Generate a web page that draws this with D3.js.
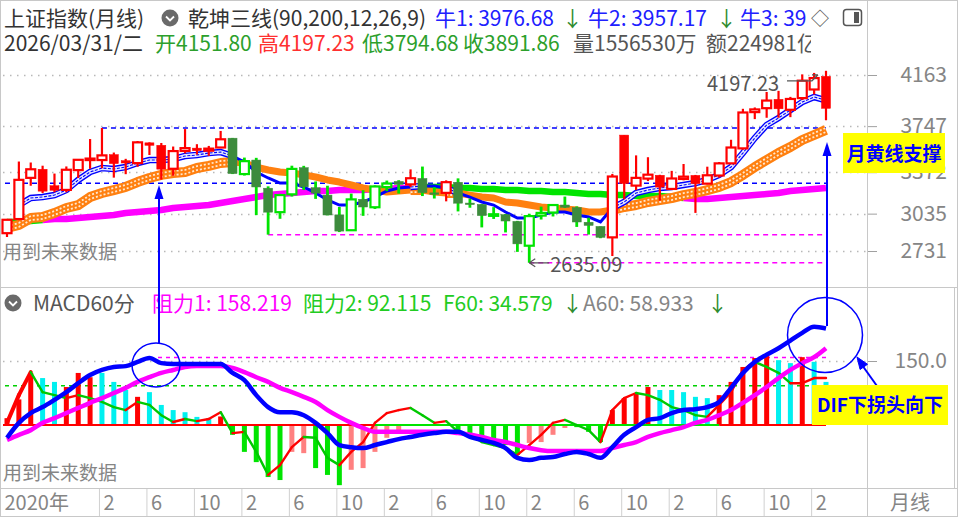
<!DOCTYPE html>
<html>
<head>
<meta charset="utf-8">
<script src="https://cdn.jsdelivr.net/npm/d3@7"></script>
<style>
  body { margin: 0; background: #fff; }
  svg { display: block; font-family: "Noto Sans CJK SC", "Noto Sans", sans-serif; }
</style>
</head>
<body>
<svg id="chart" width="958" height="517"></svg>
<script>
// ---- data (monthly, Jun 2020 .. Mar 2026) ----
const months = [
  "2020-06","2020-07","2020-08","2020-09","2020-10","2020-11","2020-12",
  "2021-01","2021-02","2021-03","2021-04","2021-05","2021-06","2021-07","2021-08","2021-09","2021-10","2021-11","2021-12",
  "2022-01","2022-02","2022-03","2022-04","2022-05","2022-06","2022-07","2022-08","2022-09","2022-10","2022-11","2022-12",
  "2023-01","2023-02","2023-03","2023-04","2023-05","2023-06","2023-07","2023-08","2023-09","2023-10","2023-11","2023-12",
  "2024-01","2024-02","2024-03","2024-04","2024-05","2024-06","2024-07","2024-08","2024-09","2024-10","2024-11","2024-12",
  "2025-01","2025-02","2025-03","2025-04","2025-05","2025-06","2025-07","2025-08","2025-09","2025-10","2025-11","2025-12",
  "2026-01","2026-02","2026-03"
];
const openP = [2876,2991,3326,3396,3262,3228,3389,
  3474,3471,3515,3466,3446,3611,3591,3400,3545,3568,3547,3573,
  3649,3357,3471,3242,3047,3192,3409,3246,3186,3025,2900,3152,
  3087,3251,3297,3273,3321,3204,3204,3290,3121,3110,3017,3027,
  2972,2774,3019,3044,3105,3084,2965,2931,2842,3674,3263,3320,
  3347,3236,3317,3346,3279,3345,3444,3566,3861,3893,3965,3880,
  3975,4045,4151.80];
const highP = [2992,3459,3451,3425,3361,3419,3474,
  3642,3732,3532,3481,3626,3615,3610,3581,3723,3600,3586,3708,
  3651,3491,3489,3257,3196,3425,3424,3297,3262,3089,3198,3226,
  3265,3304,3307,3395,3418,3250,3306,3322,3156,3112,3088,3032,
  2976,3034,3092,3110,3174,3094,3002,2931,3358,3674,3509,3494,
  3351,3383,3439,3350,3417,3455,3636,3888,3899,4025,4034,3985,
  4168,4180,4197.23];
const lowP = [2845,2982,3262,3202,3209,3209,3325,
  3400,3404,3328,3356,3416,3512,3312,3343,3526,3515,3505,3570,
  3357,3345,3023,2864,2993,3174,3227,3155,3021,2885,2896,3017,
  3073,3218,3198,3252,3178,3158,3135,3053,3083,2923,2992,2882,
  2724,2635.09,2987,3012,3081,2927,2865,2835,2690,3152,3226,3300,
  3141,3234,3306,3041,3273,3328,3440,3556,3804,3815,3815,3820,
  3960,4005,3794.68];
const closeP = [2985,3310,3396,3218,3225,3392,3473,
  3483,3509,3442,3447,3615,3591,3397,3544,3568,3547,3564,3640,
  3361,3462,3252,3047,3186,3399,3253,3202,3024,2893,3151,3089,
  3256,3280,3273,3323,3205,3202,3291,3120,3110,3019,3030,2975,
  2789,3015,3041,3105,3087,2967,2939,2842,3337,3280,3326,3352,
  3251,3321,3336,3279,3347,3444,3573,3858,3883,3955,3888,3968,
  4117,4138,3891.86];
// candle regime: r = red (bull), g = green (bear)
const regime = ("rrrrrrr" + "rrrrrrrrrrrr" + "gggggggggggg" + "gggrggrggggg" + "ggggggggrrrr" + "rrrrrrrrrrrr" + "rrr").split("");

// 乾坤三线
const bullLine = [null,3105,3162,3170,3186,3227,3309,
  3374,3406,3398,3414,3447,3471,3471,3479,3504,3512,3528,3536,
  3504,3455,3374,3325,3284,3284,3252,3203,3146,3105,3105,3130,
  3170,3219,3244,3252,3260,3260,3244,3203,3170,3130,3105,3048,
  2999,2999,3024,3048,3048,3024,3008,2967,3081,3130,3203,3227,
  3244,3252,3268,3284,3309,3350,3414,3528,3650,3756,3813,3878,
  3943,3984,3957];
const yellowLine = [2918,2943,2999,3008,3040,3081,3105,
  3170,3203,3227,3252,3292,3325,3350,3366,3374,3406,3423,3447,
  3455,3447,3414,3390,3374,3366,3350,3333,3309,3292,3268,3244,
  3227,3211,3219,3227,3227,3211,3203,3203,3186,3170,3162,3130,
  3121,3105,3089,3081,3073,3065,3048,3048,3065,3089,3105,3130,
  3146,3162,3186,3203,3227,3252,3292,3350,3414,3471,3528,3577,
  3634,3675,3716];
const longLine = [2967,2967,2975,2983,2991,2991,2999,
  3008,3016,3024,3040,3048,3056,3065,3081,3089,3097,3105,3121,
  3138,3154,3170,3186,3195,3203,3211,3219,3219,3227,3227,3227,
  3235,3235,3244,3244,3252,3252,3252,3244,3244,3235,3235,3227,
  3227,3219,3219,3211,3211,3203,3195,3195,3186,3186,3178,3178,
  3178,3170,3162,3154,3154,3162,3170,3178,3186,3195,3203,3219,
  3227,3235,3244];
const longColor = ("ggg" + "mmmmmmmmmmmmmmmmmmmmmmmmmmmmmmmm" + "gggggggggggggggggggggg" + "mmmmmmmmmmmmm").split("");

// MACD60分
const dif = [-30,5,28,42,59,77,98,
  117,129,136,138,148,157,145,143,143,143,143,143,
  122,105,70,42,30,30,23,5,-19,-47,-52,-54,
  -47,-40,-33,-28,-23,-19,-16,-16,-28,-35,-42,-54,
  -77,-82,-77,-75,-68,-63,-68,-77,-52,-23,-5,12,
  16,28,35,37,42,54,87,122,148,165,180,198,
  216,230,226];
const dea = [-35,-23,-12,5,16,28,40,
  52,63,75,87,101,112,122,129,136,138,138,138,
  134,124,112,101,87,77,66,54,35,19,5,-7,
  -16,-16,-16,-16,-16,-16,-16,-19,-23,-28,-35,-40,
  -47,-54,-59,-61,-61,-61,-61,-61,-54,-47,-40,-28,
  -19,-12,-5,5,12,23,35,52,70,89,110,129,
  145,159,180];
const hist = [16,60,122,110,101,89,122,
  112,122,101,82,66,77,47,35,30,19,16,20,
  -23,-63,-87,-122,-129,-63,-66,-101,-117,-141,-105,-101,
  -63,-30,-16,0,0,0,0,-19,-23,-40,-40,-47,
  -70,-42,-40,-23,-7,-5,-16,-40,35,63,75,89,
  82,82,77,66,63,70,101,136,157,164,152,145,
  159,148,101];
const histColor = ("rrrccrr" + "rcccrccccccr" + "gggggppgggpp" + "pppppgpggggg" + "gppppgggrrrr" + "cccccrrrrrcc" + "rcc").split("");
const trendLine = [5,70,124,77,70,63,70,
  63,54,42,35,54,47,23,7,14,9,14,30,
  -19,-16,-63,-117,-94,-52,-28,-30,-77,-94,-63,-40,
  5,28,35,40,23,5,9,-16,-23,-40,-47,-54,
  -70,-47,-23,5,12,0,-12,-40,35,63,75,70,
  59,42,35,23,19,47,77,129,148,136,122,98,
  98,110,110];
const zeroColor = ("rrrrrrr" + "rrrrrrrrrrrr" + "rrrrrrrrrrrr" + "gggggggggggg" + "gggggggggggg" + "gggggrrrrrrr" + "rrr").split("");

const priceTicks = [4163, 3747, 3372, 3035, 2731];
const macdTicks = [150];
const timeTicks = ["2020-06","2021-02","2021-06","2021-10","2022-02","2022-06","2022-10","2023-02","2023-06","2023-10","2024-02","2024-06","2024-10","2025-02","2025-06","2025-10","2026-02"];
const timeLabels = ["2020年","2","6","10","2","6","10","2","6","10","2","6","10","2","6","10","2"];

// ---- setup ----
const W = 958, H = 517, plotRight = 867;
const svg = d3.select("#chart");
svg.append("rect").attr("width", W).attr("height", H).attr("fill", "#fff");

const x = d3.scalePoint().domain(months).range([7, 826]);
const y = d3.scaleLinear().domain([2731, 4163]).range([251, 75]);
const ym = d3.scaleLinear().domain([0, 150]).range([425, 361]);

const defs = svg.append("defs");
defs.append("clipPath").attr("id", "clipMain").append("rect").attr("x", 1).attr("y", 60).attr("width", plotRight - 1).attr("height", 227);
defs.append("clipPath").attr("id", "clipMacd").append("rect").attr("x", 1).attr("y", 289).attr("width", plotRight - 1).attr("height", 198);
defs.append("clipPath").attr("id", "clipHead").append("rect").attr("x", 0).attr("y", 0).attr("width", 811).attr("height", 60);

const RED = "#ff0000", BGREEN = "#00e400", DGREEN = "#3d8b3d", MAG = "#ff00ff", BLUE = "#0000ff";

// frame
svg.append("g").attr("stroke", "#c8c8c8").attr("fill", "none").call(g => {
  g.append("rect").attr("x", 0.5).attr("y", 0.5).attr("width", W - 1).attr("height", H - 1);
  g.append("line").attr("x1", plotRight + 0.5).attr("x2", plotRight + 0.5).attr("y1", 0).attr("y2", H);
  g.append("line").attr("x1", 0).attr("x2", W).attr("y1", 287.5).attr("y2", 287.5);
  g.append("line").attr("x1", 0).attr("x2", W).attr("y1", 488.5).attr("y2", 488.5);
  g.append("line").attr("x1", 954.5).attr("x2", 954.5).attr("y1", 288).attr("y2", 488);
});

// ---- main pane ----
const main = svg.append("g").attr("clip-path", "url(#clipMain)");

main.selectAll(".grid").data(priceTicks).join("line")
  .attr("x1", 3).attr("x2", plotRight).attr("y1", d => Math.round(y(d)) + 0.5).attr("y2", d => Math.round(y(d)) + 0.5)
  .attr("stroke", "#b8b8b8").attr("stroke-width", 1.5).attr("stroke-dasharray", "1.5,5.5");

svg.append("text").attr("x", 3).attr("y", 259).attr("font-size", 19).attr("fill", "#858585").text("用到未来数据");

// support / resistance dashed lines
const levelLines = [
  { v: 3731.69, from: "2021-02", c: BLUE },
  { v: 3282, from: null, c: BLUE },
  { v: 2863.65, from: "2022-04", c: MAG },
  { v: 2635.09, from: "2024-02", c: MAG }
];
main.selectAll(".lvl").data(levelLines).join("line")
  .attr("x1", d => d.from ? x(d.from) : 5).attr("x2", 826)
  .attr("y1", d => y(d.v)).attr("y2", d => y(d.v))
  .attr("stroke", d => d.c).attr("stroke-width", 1.5).attr("stroke-dasharray", "5,4");

function runs(cols) {
  const out = [];
  let s = 0;
  for (let i = 1; i <= cols.length; i++) {
    if (i === cols.length || cols[i] !== cols[s]) {
      out.push({ c: cols[s], from: s, to: Math.min(i, cols.length - 1) });
      s = i;
    }
  }
  return out;
}
const lineOf = arr => d3.line().defined(i => arr[i] != null).x(i => x(months[i])).y(i => y(arr[i]));
const idx = (a, b) => d3.range(a, b + 1);

// long line
runs(longColor).forEach(r => {
  main.append("path").attr("d", lineOf(longLine)(idx(r.from, r.to)))
    .attr("fill", "none").attr("stroke", r.c === "m" ? MAG : BGREEN)
    .attr("stroke-width", 6.5).attr("stroke-linejoin", "round");
});

// yellow (orange) band
const yRuns = runs(regime);
yRuns.forEach(r => {
  const d = lineOf(yellowLine)(idx(r.from, r.to));
  if (r.c === "r") {
    main.append("path").attr("d", d).attr("fill", "none").attr("stroke", "#ff8010").attr("stroke-width", 10).attr("stroke-linejoin", "round");
    main.append("path").attr("d", d).attr("fill", "none").attr("stroke", "#ffe8d0").attr("stroke-width", 1.8).attr("stroke-dasharray", "2,2")
      .attr("transform", "translate(0,-2)");
    main.append("path").attr("d", d).attr("fill", "none").attr("stroke", "#ffe8d0").attr("stroke-width", 1.8).attr("stroke-dasharray", "2,2")
      .attr("transform", "translate(0,2)");
  } else {
    main.append("path").attr("d", d).attr("fill", "none").attr("stroke", "#ff8010").attr("stroke-width", 7).attr("stroke-linejoin", "round");
  }
});

// bull (blue) band
yRuns.forEach(r => {
  const d = lineOf(bullLine)(idx(r.from, r.to));
  if (r.c === "r") {
    main.append("path").attr("d", d).attr("fill", "none").attr("stroke", BLUE).attr("stroke-width", 6.5);
    main.append("path").attr("d", d).attr("fill", "none").attr("stroke", "#e4e8ff").attr("stroke-width", 3.8);
    main.append("path").attr("d", d).attr("fill", "none").attr("stroke", BLUE).attr("stroke-width", 1.1).attr("stroke-dasharray", "3,1.5");
  } else {
    main.append("path").attr("d", d).attr("fill", "none").attr("stroke", BLUE).attr("stroke-width", 3);
  }
});

// candles
const candles = main.append("g").selectAll("g").data(d3.range(months.length)).join("g");
const up = i => closeP[i] >= openP[i];
const wickColor = i => regime[i] === "r" ? RED : BGREEN;
candles.append("line")
  .attr("x1", i => x(months[i])).attr("x2", i => x(months[i]))
  .attr("y1", i => y(highP[i])).attr("y2", i => y(lowP[i]))
  .attr("stroke", wickColor).attr("stroke-width", i => regime[i] === "r" ? 2.2 : 2.8);
candles.append("rect")
  .attr("x", i => x(months[i]) - 4.5).attr("width", 9)
  .attr("y", i => y(Math.max(openP[i], closeP[i])))
  .attr("height", i => Math.max(1.5, Math.abs(y(openP[i]) - y(closeP[i]))))
  .attr("fill", i => up(i) ? "#fff" : (regime[i] === "r" ? RED : DGREEN))
  .attr("stroke", i => up(i) ? wickColor(i) : (regime[i] === "r" ? RED : DGREEN))
  .attr("stroke-width", i => up(i) ? 2.2 : 0.5);

// high / low labels
const hiIdx = months.length - 1, loIdx = lowP.indexOf(d3.min(lowP));
svg.append("text").attr("x", 707).attr("y", y(highP[hiIdx]) + 20).attr("font-size", 20).attr("fill", "#555").text(highP[hiIdx].toFixed(2));
svg.append("path").attr("d", `M787,${y(highP[hiIdx]) + 10}H812l6,-6M812,${y(highP[hiIdx]) + 4}l6,0`)
  .attr("fill", "none").attr("stroke", "#555").attr("stroke-width", 1.2);
const lx = x(months[loIdx]), ly = y(lowP[loIdx]);
svg.append("path").attr("d", `M${lx},${ly}H${lx + 20}M${lx},${ly}l6,-4M${lx},${ly}l6,4`)
  .attr("fill", "none").attr("stroke", "#555").attr("stroke-width", 1.2);
svg.append("text").attr("x", lx + 21).attr("y", ly + 9).attr("font-size", 20).attr("fill", "#555").text(lowP[loIdx].toFixed(2));

// right price axis
const yAxis = svg.append("g").attr("transform", `translate(${plotRight + 1},0)`)
  .call(d3.axisRight(y).tickValues(priceTicks).tickSize(9).tickFormat(d3.format("d")));
yAxis.select(".domain").remove();
yAxis.selectAll("line").attr("stroke", "#a0a0a0");
yAxis.selectAll("text").attr("x", 79).attr("text-anchor", "end").attr("font-size", 21)
  .attr("fill", "#858585").attr("font-family", "\"Noto Sans CJK SC\", sans-serif");

// ---- MACD pane ----
const macd = svg.append("g").attr("clip-path", "url(#clipMacd)");
macd.selectAll(".mgrid").data(macdTicks).join("line")
  .attr("x1", 3).attr("x2", plotRight).attr("y1", d => ym(d) + 0.5).attr("y2", d => ym(d) + 0.5)
  .attr("stroke", "#b8b8b8").attr("stroke-width", 1.5).attr("stroke-dasharray", "1.5,5.5");
macd.append("line").attr("x1", 158).attr("x2", 827).attr("y1", ym(158.219)).attr("y2", ym(158.219))
  .attr("stroke", MAG).attr("stroke-width", 1.5).attr("stroke-dasharray", "4,4");
macd.append("line").attr("x1", 5).attr("x2", 826).attr("y1", ym(92.115)).attr("y2", ym(92.115))
  .attr("stroke", "#00d000").attr("stroke-width", 1.5).attr("stroke-dasharray", "4,4");

const hcol = { r: RED, c: "#00f0f0", g: BGREEN, p: "#ff8080" };
macd.append("g").selectAll("rect").data(d3.range(months.length)).join("rect")
  .attr("x", i => x(months[i]) - 2.5).attr("width", 5)
  .attr("y", i => Math.min(ym(hist[i]), ym(0))).attr("height", i => Math.abs(ym(hist[i]) - ym(0)))
  .attr("fill", i => hcol[histColor[i]]);

runs(zeroColor).forEach(r => {
  macd.append("line").attr("x1", r.from === 0 ? 3 : x(months[r.from])).attr("x2", x(months[r.to]))
    .attr("y1", ym(0)).attr("y2", ym(0))
    .attr("stroke", r.c === "r" ? RED : BGREEN).attr("stroke-width", 2);
});

macd.append("g").selectAll("line").data(d3.range(months.length - 1)).join("line")
  .attr("x1", i => x(months[i])).attr("x2", i => x(months[i + 1]))
  .attr("y1", i => ym(trendLine[i])).attr("y2", i => ym(trendLine[i + 1]))
  .attr("stroke", i => trendLine[i + 1] >= trendLine[i] ? RED : "#00c800")
  .attr("stroke-width", i => i < 2 ? 4 : 2.4).attr("stroke-linecap", "round");

const mline = arr => d3.line().curve(d3.curveMonotoneX).x((d, i) => x(months[i])).y(d => ym(d))(arr);
macd.append("path").attr("d", mline(dea)).attr("fill", "none").attr("stroke", MAG).attr("stroke-width", 4.5);
macd.append("path").attr("d", mline(dif)).attr("fill", "none").attr("stroke", BLUE).attr("stroke-width", 4.5);

svg.append("text").attr("x", 3).attr("y", 480).attr("font-size", 19).attr("fill", "#858585").text("用到未来数据");

const mAxis = svg.append("g").attr("transform", `translate(${plotRight + 1},0)`)
  .call(d3.axisRight(ym).tickValues(macdTicks).tickSize(9).tickFormat(d3.format(".1f")));
mAxis.select(".domain").remove();
mAxis.selectAll("line").attr("stroke", "#a0a0a0");
mAxis.selectAll("text").attr("x", 79).attr("text-anchor", "end").attr("font-size", 21)
  .attr("fill", "#858585").attr("font-family", "\"Noto Sans CJK SC\", sans-serif");

// ---- time axis ----
const xAxis = svg.append("g").attr("transform", "translate(0,489)")
  .call(d3.axisBottom(x).tickValues(timeTicks).tickSize(27).tickFormat((d, i) => timeLabels[i]));
xAxis.select(".domain").remove();
xAxis.selectAll(".tick line").attr("x1", -3).attr("x2", -3).attr("stroke", "#d0d0d0")
  .attr("opacity", (d, i) => i === 0 ? 0 : 1);
xAxis.selectAll(".tick text").attr("text-anchor", "start").attr("x", (d, i) => i === 0 ? -3 : 1)
  .attr("y", 21).attr("dy", null).attr("font-size", 20).attr("fill", "#858585")
  .attr("font-family", "\"Noto Sans CJK SC\", sans-serif");
svg.append("text").attr("x", 890).attr("y", 510).attr("font-size", 20).attr("fill", "#858585").text("月线");

// ---- header ----
function label(g, items, yPos, size) {
  items.forEach(it => {
    g.append("text").attr("x", it.x).attr("y", yPos).attr("font-size", size)
      .attr("fill", it.c).text(it.t);
  });
}
function chevronIcon(cx, cy) {
  svg.append("circle").attr("cx", cx).attr("cy", cy).attr("r", 8.5).attr("fill", "#6a6a6a");
  svg.append("path").attr("d", `M${cx - 4},${cy - 1.5}l4,4l4,-4`).attr("fill", "none").attr("stroke", "#fff").attr("stroke-width", 1.8);
}
const head = svg.append("g").attr("clip-path", "url(#clipHead)");
label(head, [
  { x: 4, t: "上证指数(月线)", c: "#333" },
  { x: 188, t: "乾坤三线(90,200,12,26,9)", c: "#333" },
  { x: 435, t: "牛1: 3976.68", c: "#2020ff" },
  { x: 562, t: "↓", c: "#2e8b2e" },
  { x: 588, t: "牛2: 3957.17", c: "#2020ff" },
  { x: 716, t: "↓", c: "#2e8b2e" },
  { x: 740, t: "牛3: 39", c: "#2020ff" }
], 26, 21);
label(head, [
  { x: 4, t: "2026/03/31/二", c: "#333" },
  { x: 155, t: "开4151.80", c: "#2ca02c" },
  { x: 258, t: "高4197.23", c: "#ff3030" },
  { x: 362, t: "低3794.68", c: "#2ca02c" },
  { x: 463, t: "收3891.86", c: "#2ca02c" },
  { x: 573, t: "量1556530万", c: "#555" },
  { x: 706, t: "额224981亿", c: "#555" }
], 51, 21);
svg.append("text").attr("x", 811).attr("y", 25).attr("font-size", 18).attr("fill", "#555").text("◇");
chevronIcon(170, 18);
svg.append("rect").attr("x", 843.5).attr("y", 9.5).attr("width", 18).attr("height", 16).attr("rx", 3)
  .attr("fill", "#fff").attr("stroke", "#555").attr("stroke-width", 1.5);
svg.append("rect").attr("x", 854).attr("y", 12).attr("width", 5).attr("height", 11).attr("fill", "#555");

chevronIcon(13, 303);
label(svg, [
  { x: 33, t: "MACD60分", c: "#555" },
  { x: 152, t: "阻力1: 158.219", c: "#ff00ff" },
  { x: 303, t: "阻力2: 92.115", c: "#22cc22" },
  { x: 443, t: "F60: 34.579", c: "#22cc22" },
  { x: 562, t: "↓", c: "#2e8b2e" },
  { x: 583, t: "A60: 58.933", c: "#858585" },
  { x: 707, t: "↓", c: "#2e8b2e" }
], 311, 21);

// ---- annotations ----
const ann = svg.append("g").attr("stroke", BLUE).attr("fill", "none").attr("stroke-width", 2);
ann.append("ellipse").attr("cx", 156).attr("cy", 365).attr("rx", 24).attr("ry", 22).attr("stroke-width", 1.5);
ann.append("line").attr("x1", 159).attr("x2", 159).attr("y1", 344).attr("y2", 196);
svg.append("path").attr("d", "M159,185L154.5,199H163.5Z").attr("fill", BLUE);
ann.append("circle").attr("cx", 825).attr("cy", 335).attr("r", 37.5).attr("stroke-width", 1.5);
ann.append("line").attr("x1", 827).attr("x2", 827).attr("y1", 326).attr("y2", 152);
svg.append("path").attr("d", "M827,142L822.5,156H831.5Z").attr("fill", BLUE);
ann.append("line").attr("x1", 882).attr("x2", 862).attr("y1", 393).attr("y2", 365);
svg.append("path").attr("d", "M857,357L867.5,364.3L860.1,369.5Z").attr("fill", BLUE).attr("stroke", BLUE).attr("stroke-width", 1);

function callout(x0, y0, w, h, t, ty) {
  svg.append("rect").attr("x", x0).attr("y", y0).attr("width", w).attr("height", h).attr("fill", "#ffff00");
  svg.append("text").attr("x", x0 + w / 2).attr("y", ty).attr("text-anchor", "middle")
    .attr("font-size", 19).attr("font-weight", "bold").attr("fill", BLUE).text(t);
}
callout(843, 133, 102, 40, "月黄线支撑", 161);
callout(812, 385, 136, 40, "DIF下拐头向下", 412);
</script>
</body>
</html>
